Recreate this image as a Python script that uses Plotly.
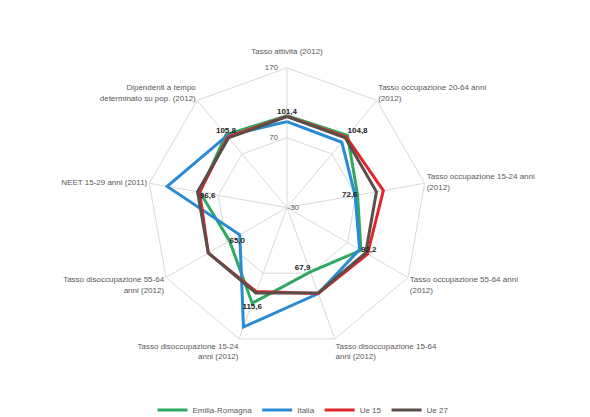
import plotly.graph_objects as go

categories = [
    "Tasso attività (2012)<br> ",
    "Tasso occupazione 20-64 anni<br>(2012)",
    "Tasso occupazione 15-24 anni<br>(2012)",
    "Tasso occupazione 55-64 anni<br>(2012)",
    "Tasso disoccupazione 15-64<br>anni (2012)",
    "Tasso disoccupazione 15-24<br>anni (2012)",
    "Tasso disoccupazione 55-64<br>anni (2012)",
    "NEET 15-29 anni (2011)",
    "Dipendenti a tempo<br>determinato su pop. (2012)",
]

emilia_romagna = [101.4, 104.8, 72.6, 92.2, 67.9, 115.6, 65.0, 96.6, 105.8]
italia = [93, 92, 69, 90, 101, 152, 48, 144, 104]
ue15 = [100.5, 102, 110, 103, 101, 98, 100, 97, 102]
ue27 = [100, 100, 100, 100, 100, 100, 100, 100, 100]

radial_ticks = [-30, 70, 170]

label_pos = ["top center", "top right", "middle left", "middle right", "top left",
             "bottom center", "middle right", "bottom right", "top center"]

series = [
    ("Emilia-Romagna", emilia_romagna, "#2fa862"),
    ("Italia", italia, "#2a8ad4"),
    ("Ue 15", ue15, "#e0262c"),
    ("Ue 27", ue27, "#5b4d47"),
]

fig = go.Figure()
for name, vals, color in series:
    fig.add_trace(go.Scatterpolar(
        r=vals + vals[:1],
        theta=categories + categories[:1],
        mode="lines",
        name=name,
        line=dict(color=color, width=3),
    ))

# data labels (Emilia-Romagna values)
fig.add_trace(go.Scatterpolar(
    r=emilia_romagna,
    theta=categories,
    mode="text",
    text=[f"{v:.1f}".replace(".", ",") for v in emilia_romagna],
    textposition=label_pos,
    textfont=dict(size=8, color="#222222", family="Liberation Sans", weight="bold"),
    showlegend=False,
    hoverinfo="skip",
))

# radial scale labels (above the centre), left of the vertical spoke
fig.add_trace(go.Scatterpolar(
    r=radial_ticks[1:],
    theta=[categories[0]] * (len(radial_ticks) - 1),
    mode="text",
    text=[f"{t}\u00a0\u00a0\u00a0\u00a0" for t in radial_ticks[1:]],
    textposition="middle left",
    textfont=dict(size=8, color="#595959", family="Liberation Sans"),
    cliponaxis=False,
    showlegend=False,
    hoverinfo="skip",
))

fig.update_layout(
    width=590,
    height=417,
    margin=dict(l=0, r=0, t=0, b=0),
    paper_bgcolor="white",
    font=dict(family="Liberation Sans", size=8, color="#595959"),
    polar=dict(
        domain=dict(x=[0.2271, 0.7186], y=[0.1559, 0.8513]),
        bgcolor="white",
        gridshape="linear",
        radialaxis=dict(
            range=[-30, 170],
            tickvals=radial_ticks,
            ticktext=[str(radial_ticks[0]), "", ""],
            tickangle=90,
            angle=90,
            showline=False,
            gridcolor="#d9d9d9",
            tickfont=dict(size=8, color="#595959"),
            ticks="",
        ),
        angularaxis=dict(
            direction="clockwise",
            rotation=90,
            gridcolor="#d9d9d9",
            linecolor="#d9d9d9",
            tickfont=dict(size=8, color="#595959"),
            ticks="",
        ),
    ),
    legend=dict(
        orientation="h",
        x=0.5,
        xanchor="center",
        y=0.0,
        yanchor="middle",
        font=dict(size=8, color="#595959"),
        itemwidth=30,
    ),
)

fig.write_html("out.html")
